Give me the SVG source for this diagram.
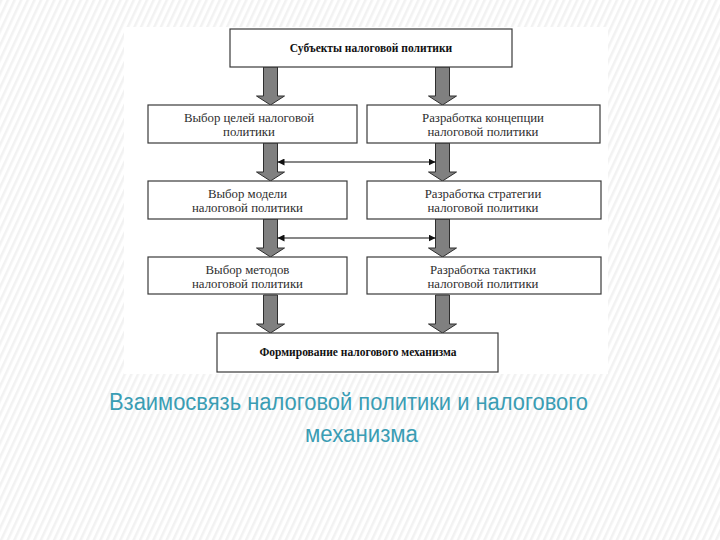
<svg xmlns="http://www.w3.org/2000/svg" width="720" height="540" viewBox="0 0 720 540">
  <defs>
    <pattern id="stripes" width="6" height="6" patternUnits="userSpaceOnUse" patternTransform="rotate(25)">
      <rect width="6" height="6" fill="#ffffff"/>
      <rect width="2.5" height="6" fill="#f2f2f2"/>
    </pattern>
    <marker id="ah" viewBox="0 0 10 10" refX="10" refY="5" markerWidth="7" markerHeight="7" orient="auto-start-reverse" markerUnits="userSpaceOnUse">
      <path d="M0,0 L10,5 L0,10 Z" fill="#111"/>
    </marker>
    <path id="blk" d="M-7,0 L7,0 L7,29 L14,29 L0,38 L-14,29 L-7,29 Z"/>
  </defs>
  <style>
    .box { fill: #ffffff; stroke: #3a3a3a; stroke-width: 1.2; }
    .t { font-family: "Liberation Serif", "Times New Roman", serif; font-size: 12.8px; fill: #2e2e2e; text-anchor: middle; }
    .b { font-weight: bold; font-size: 11.5px; fill: #111; }
    .blk { fill: #808080; stroke: #2e2e2e; stroke-width: 1; }
    .link { stroke: #111; stroke-width: 1.2; fill: none; }
    .title { font-family: "Liberation Sans", Arial, sans-serif; font-size: 23px; fill: #3a9db4; }
  </style>
  <rect width="720" height="540" fill="url(#stripes)"/>
  <rect x="124" y="27" width="484" height="347" fill="#ffffff"/>

  <g id="connectors">
    <use href="#blk" x="270.5" y="67" class="blk"/>
    <use href="#blk" x="442.5" y="67" class="blk"/>
    <use href="#blk" x="270.5" y="143" class="blk"/>
    <use href="#blk" x="442.5" y="143" class="blk"/>
    <use href="#blk" x="270.5" y="219" class="blk"/>
    <use href="#blk" x="442.5" y="219" class="blk"/>
    <use href="#blk" x="270.5" y="295" class="blk"/>
    <use href="#blk" x="442.5" y="295" class="blk"/>
    <line x1="277.5" y1="162" x2="435.5" y2="162" class="link" marker-start="url(#ah)" marker-end="url(#ah)"/>
    <line x1="277.5" y1="238" x2="435.5" y2="238" class="link" marker-start="url(#ah)" marker-end="url(#ah)"/>
  </g>

  <g id="n-subjects">
    <rect x="230" y="29" width="282" height="38" class="box"/>
    <text x="371" y="52" class="t b">Субъекты налоговой политики</text>
  </g>
  <g id="n-goals">
    <rect x="148" y="105" width="209" height="38" class="box"/>
    <text x="249" y="122" class="t">Выбор целей налоговой</text>
    <text x="249" y="135.5" class="t">политики</text>
  </g>
  <g id="n-concept">
    <rect x="367" y="105" width="233" height="38" class="box"/>
    <text x="483" y="122" class="t">Разработка концепции</text>
    <text x="483" y="135.5" class="t">налоговой политики</text>
  </g>
  <g id="n-model">
    <rect x="148" y="181" width="199" height="38" class="box"/>
    <text x="247.5" y="198" class="t">Выбор модели</text>
    <text x="247.5" y="211.5" class="t">налоговой политики</text>
  </g>
  <g id="n-strategy">
    <rect x="367" y="181" width="234" height="38" class="box"/>
    <text x="483" y="198" class="t">Разработка стратегии</text>
    <text x="483" y="211.5" class="t">налоговой политики</text>
  </g>
  <g id="n-methods">
    <rect x="148" y="257" width="199" height="37" class="box"/>
    <text x="247.5" y="274" class="t">Выбор методов</text>
    <text x="247.5" y="287.5" class="t">налоговой политики</text>
  </g>
  <g id="n-tactics">
    <rect x="367" y="257" width="234" height="37" class="box"/>
    <text x="483" y="274" class="t">Разработка тактики</text>
    <text x="483" y="287.5" class="t">налоговой политики</text>
  </g>
  <g id="n-mechanism">
    <rect x="217" y="333" width="281" height="39" class="box"/>
    <text x="358" y="356" class="t b">Формирование налогового механизма</text>
  </g>

  <g id="title">
    <text x="109" y="410" class="title" textLength="479" lengthAdjust="spacingAndGlyphs">Взаимосвязь налоговой политики и налогового</text>
    <text x="305" y="442" class="title" textLength="113" lengthAdjust="spacingAndGlyphs">механизма</text>
  </g>
</svg>
